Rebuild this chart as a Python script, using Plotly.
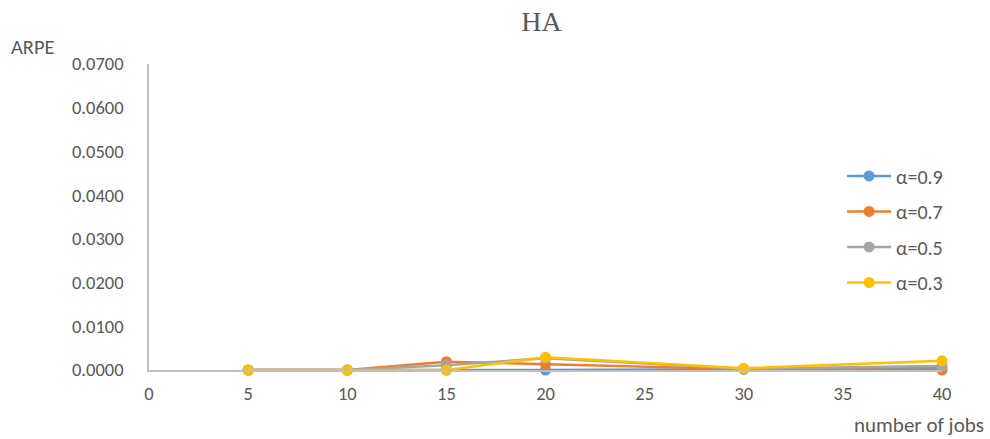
import plotly.graph_objects as go

jobs = [5, 10, 15, 20, 30, 40]
series_names = ["α=0.9", "α=0.7", "α=0.5", "α=0.3"]
a09 = [0.0, 0.0, 0.0, 0.0, 0.0002, 0.0005]
a07 = [0.0, 0.0, 0.0019, 0.0013, 0.0002, 0.0000]
a05 = [0.0, 0.0, 0.0011, 0.0027, 0.0003, 0.0009]
a03 = [0.0, 0.0, 0.0, 0.0029, 0.0004, 0.0021]
colors = ["#5B9BD5", "#ED7D31", "#A5A5A5", "#FFC000"]
x_ticks = [0, 5, 10, 15, 20, 25, 30, 35, 40]
y_ticks = [0, 0.01, 0.02, 0.03, 0.04, 0.05, 0.06, 0.07]

font = "Carlito, Lato, 'Open Sans', sans-serif"
fig = go.Figure()
for i, (name, vals) in enumerate(zip(series_names, [a09, a07, a05, a03])):
    fig.add_trace(go.Scatter(
        x=jobs, y=vals, name=name, mode="lines+markers",
        line=dict(color=colors[i], width=2.5),
        marker=dict(color=colors[i], size=11),
        legendgroup=name,
        cliponaxis=False,
    ))

fig.update_layout(
    width=990, height=439,
    margin=dict(l=149, r=48, t=64, b=69),
    paper_bgcolor="white", plot_bgcolor="white",
    title=dict(text="HA", x=541.5 / 990, xanchor="center", y=1 - 21 / 439, yanchor="middle",
               font=dict(family="'Liberation Serif', serif", size=28, color="#595959")),
    font=dict(family=font, size=18, color="#595959"),
    legend=dict(x=0.874, xanchor="left", y=0.698, yanchor="top", itemwidth=44,
                font=dict(size=20, color="#595959"), tracegroupgap=6.5,
                bgcolor="rgba(0,0,0,0)"),
    xaxis=dict(range=[0, 40], tickvals=x_ticks, showgrid=False, zeroline=False,
               showline=True, linecolor="#BFBFBF", linewidth=1.5, ticks="",
               tickfont=dict(size=18.5, color="#595959"), ticklabelstandoff=6),
    yaxis=dict(range=[0, 0.07], tickvals=y_ticks, tickformat=".4f", showgrid=False,
               zeroline=False, showline=True, linecolor="#BFBFBF", linewidth=1.5,
               ticks="", tickfont=dict(size=18.5, color="#595959"), ticklabelstandoff=20),
    annotations=[
        dict(text="ARPE", xref="paper", yref="paper", x=(9 - 149) / 793, y=(370 - 47) / 306,
             xanchor="left", yanchor="middle", showarrow=False,
             font=dict(size=20.5, color="#595959")),
        dict(text="number of jobs", xref="paper", yref="paper", x=(986 - 149) / 793,
             y=(370 - 425) / 306, xanchor="right", yanchor="middle", showarrow=False,
             font=dict(size=21, color="#595959")),
    ],
)
fig.write_html("out.html", post_script="document.body.style.margin='0';",
               config={"displayModeBar": False})
